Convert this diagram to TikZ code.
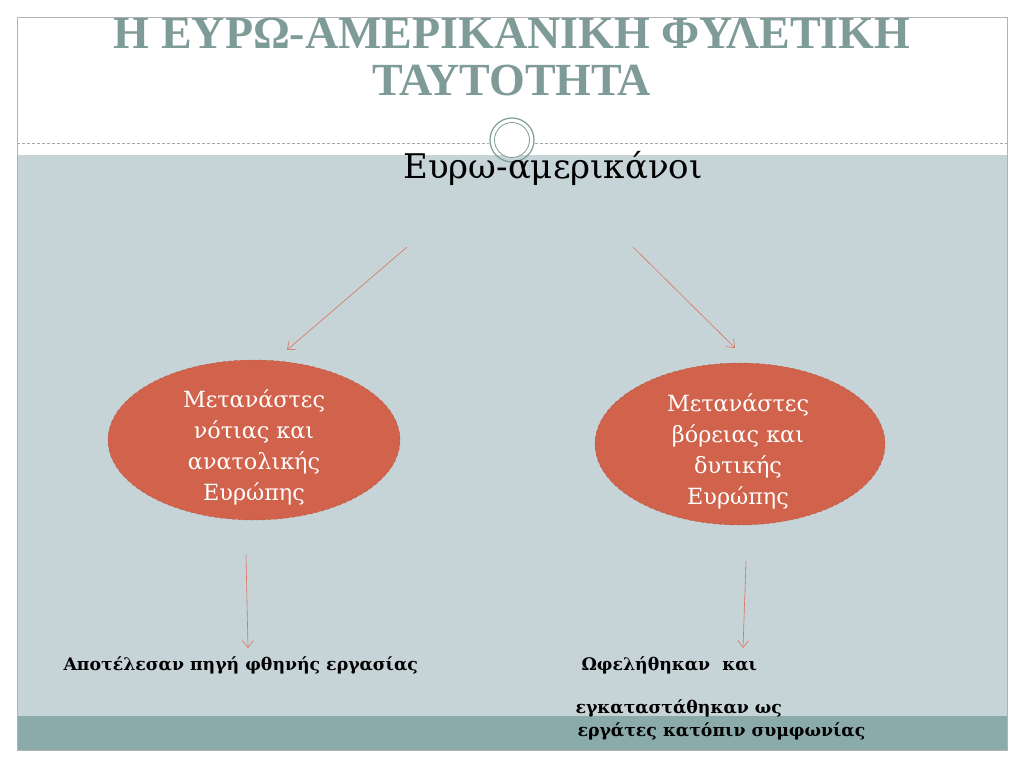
\documentclass[tikz,border=0pt]{standalone}
\usepackage{fontspec}
\setmainfont{DejaVu Serif}
\newfontfamily\titlefont{Liberation Serif}
\usetikzlibrary{positioning}
\usetikzlibrary{arrows.meta}
\usetikzlibrary{shapes.geometric}

\definecolor{slidebg}{HTML}{C6D4D8}
\definecolor{bandbg}{HTML}{8AABA9}
\definecolor{titlecol}{HTML}{7F9B98}
\definecolor{blobfill}{HTML}{D1624B}
\definecolor{blobline}{HTML}{B4523F}
\definecolor{arrowcol}{HTML}{D9735E}

\begin{document}
\begin{tikzpicture}[x=1pt, y=-1pt,
	blob/.style={ellipse, fill=blobfill, draw=blobline, dashed, inner sep=0pt},
	blobtext/.style={text=white, align=center, font=\fontsize{22.3}{31}\selectfont},
	note/.style={font=\bfseries\fontsize{17.3}{22}\selectfont, anchor=west},
	link/.style={arrowcol, line width=0.6pt, -{Straight Barb[length=7pt, width=11pt]}}]
				
				% slide background
				\useasboundingbox (0,0) rectangle (1024,768);
				\fill[white] (0,0) rectangle (1024,768);
				\fill[slidebg] (17,155) rectangle (1007,716);
				\fill[bandbg] (17,716) rectangle (1007,750);
				\draw[gray!60] (17,17) rectangle (1007,750);
				\draw[gray!70, densely dashed, line width=0.4pt] (17,143) -- (489,143);
				\draw[gray!70, densely dashed, line width=0.4pt] (535,143) -- (1007,143);
				\draw[titlecol, line width=1.2pt] (512,140) circle (22);
				\draw[titlecol, line width=0.8pt, fill=white] (512,140) circle (17.5);
				
				\node[titlecol, align=center, font=\titlefont\bfseries\fontsize{46}{47}\selectfont] (T) at (512,57) {Η ΕΥΡΩ-ΑΜΕΡΙΚΑΝΙΚΗ ΦΥΛΕΤΙΚΗ\\ΤΑΥΤΟΤΗΤΑ};
				\node[font=\fontsize{34}{36}\selectfont] (E) at (553,168) {Ευρω-αμερικάνοι};
				
				\node[blob, minimum width=292, minimum height=160] (S) at (254,440) {};
				\node[blob, minimum width=290, minimum height=162] (N) at (740,444) {};
				\node[blobtext] (St) at (254,447) {Μετανάστες\\νότιας και\\ανατολικής\\Ευρώπης};
				\node[blobtext] (Nt) at (738,451) {Μετανάστες\\βόρειας και\\δυτικής\\Ευρώπης};
				
				\coordinate (S0) at (407,247);
				\coordinate (S1) at (287,350);
				\coordinate (N0) at (633,247);
				\coordinate (N1) at (735,348);
				\coordinate (S2) at (246,555);
				\coordinate (S3) at (248,648);
				\coordinate (N2) at (746,561);
				\coordinate (N3) at (743,648);
				
				\draw[link] (S0) -- (S1);
				\draw[link] (N0) -- (N1);
				\draw[link] (S2) -- (S3);
				\draw[link] (N2) -- (N3);
				
				\node[note] (R1) at (60,665) {Αποτέλεσαν πηγή φθηνής εργασίας};
				\node[note] (R2) at (578,665) {Ωφελήθηκαν\ \ και};
				\node[note] (R3) at (572,708) {εγκαταστάθηκαν ως};
				\node[note] (R4) at (574,731) {εργάτες κατόπιν συμφωνίας};
				
			\end{tikzpicture}
\end{document}
